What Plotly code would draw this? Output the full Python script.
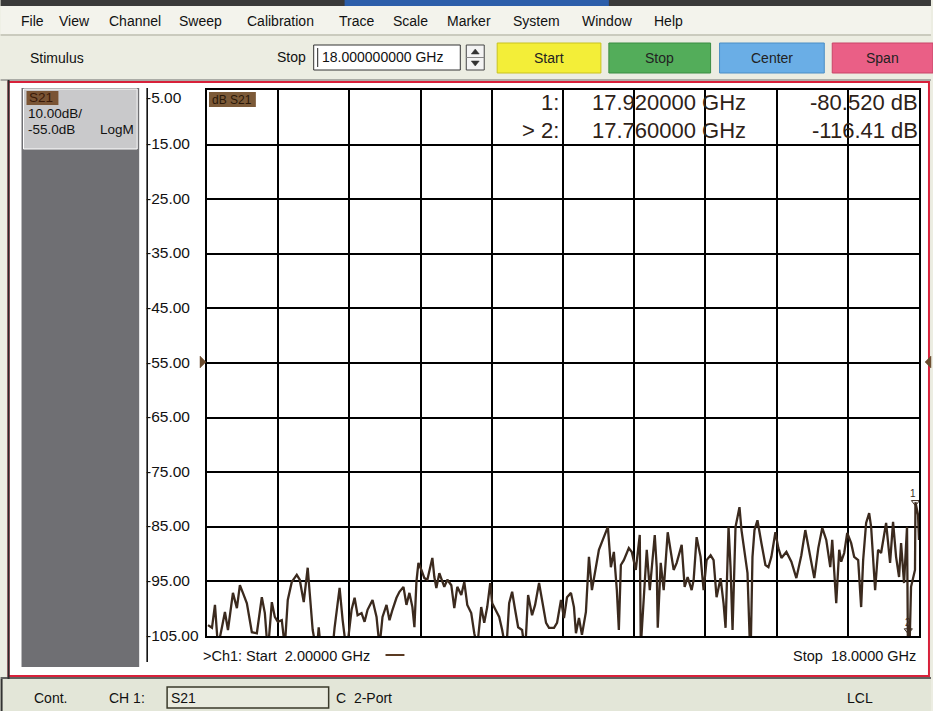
import plotly.graph_objects as go

# ---------------- data ----------------
freq_ghz = [
    2.022, 2.112, 2.179, 2.246, 2.336, 2.403, 2.471, 2.560, 2.583, 2.672, 2.739, 2.807, 2.896,
    3.008, 3.120, 3.232, 3.300, 3.367, 3.457, 3.524, 3.591, 3.681, 3.748, 3.815, 3.905,
    4.017, 4.084, 4.174, 4.241, 4.263, 4.308, 4.375, 4.465, 4.510, 4.577, 4.801, 4.868, 4.980,
    5.048, 5.137, 5.249, 5.317, 5.384, 5.473, 5.541, 5.608, 5.720, 5.810, 5.877, 5.944,
    6.034, 6.101, 6.168, 6.258, 6.325, 6.415, 6.482, 6.549, 6.616, 6.661, 6.706, 6.751, 6.818, 6.885, 6.952,
    7.064, 7.109, 7.154, 7.221, 7.333, 7.401, 7.490, 7.557, 7.625, 7.714, 7.782, 7.849, 7.938,
    8.006, 8.073, 8.162, 8.230, 8.297, 8.364, 8.409, 8.499, 8.566, 8.633, 8.723, 8.790, 8.857, 8.924, 8.992,
    9.081, 9.148, 9.216, 9.305, 9.373, 9.462, 9.529, 9.619, 9.686, 9.798, 9.866, 9.955,
    10.022, 10.090, 10.179, 10.246, 10.291, 10.359, 10.426, 10.515, 10.583, 10.650, 10.739, 10.807, 10.874, 10.964,
    11.008, 11.076, 11.143, 11.210, 11.255, 11.300, 11.367, 11.479, 11.546, 11.636, 11.725, 11.748, 11.882, 11.950,
    12.062, 12.106, 12.129, 12.196, 12.263, 12.353, 12.420, 12.487, 12.555, 12.667, 12.734, 12.801, 12.891, 12.936,
    13.003, 13.092, 13.160, 13.227, 13.317, 13.384, 13.451, 13.541, 13.608, 13.653, 13.720, 13.765, 13.810, 13.877, 13.922, 13.966,
    14.011, 14.101, 14.146, 14.213, 14.258, 14.303, 14.370, 14.459, 14.549, 14.616, 14.683, 14.773, 14.840, 14.908,
    15.020, 15.132, 15.244, 15.356, 15.445, 15.557, 15.647, 15.737, 15.826, 15.916,
    16.006, 16.050, 16.118, 16.140, 16.207, 16.252, 16.319, 16.387, 16.476, 16.543, 16.633, 16.700, 16.745, 16.812, 16.880, 16.924,
    17.014, 17.081, 17.148, 17.216, 17.261, 17.350, 17.417, 17.485, 17.552, 17.597, 17.664, 17.731, 17.760, 17.821, 17.910, 17.920, 17.978,
    18.000,
]
s21_db = [
    -103.0, -103.5, -99.3, -107.0, -103.4, -100.6, -103.9, -98.8, -97.1, -99.9, -95.7, -97.1, -99.0,
    -104.3, -104.5, -97.9, -100.8, -108.0, -98.8, -101.5, -102.4, -102.1, -107.0, -98.4, -95.1,
    -93.8, -94.7, -98.8, -94.2, -92.5, -97.1, -103.9, -108.0, -103.4, -109.0, -109.0, -103.4, -96.2,
    -102.1, -108.0, -100.2, -98.0, -101.2, -100.8, -102.4, -100.2, -98.4, -101.5, -107.0, -101.5,
    -99.3, -102.1, -100.2, -98.0, -96.9, -96.0, -99.3, -97.1, -99.7, -103.4, -95.1, -91.6, -92.9, -94.4, -94.7,
    -90.7, -94.2, -96.2, -93.5, -96.0, -94.7, -95.7, -99.9, -96.0, -97.5, -95.1, -99.3, -100.8,
    -104.5, -107.0, -99.7, -102.6, -99.7, -95.3, -99.0, -100.6, -101.5, -103.9, -108.0, -99.0, -96.9, -100.2, -103.4,
    -103.9, -108.0, -97.5, -101.2, -99.3, -95.3, -98.4, -102.6, -103.5, -103.5, -102.6, -98.4,
    -101.7, -97.9, -97.1, -99.7, -104.5, -101.7, -104.8, -100.6, -90.5, -96.6, -92.4, -89.2, -87.8, -86.1,
    -85.0, -92.4, -89.6, -96.6, -103.9, -92.0, -91.1, -88.9, -89.6, -92.9, -86.5, -107.0, -89.2, -96.6,
    -86.5, -92.4, -103.5, -91.6, -96.6, -86.0, -89.2, -92.9, -91.6, -88.3, -96.0, -94.2, -96.6, -94.7,
    -86.9, -90.5, -96.6, -91.1, -90.2, -91.1, -97.9, -94.4, -99.0, -103.5, -85.0, -92.4, -103.9, -85.0, -83.2, -81.4,
    -85.6, -91.1, -93.5, -110.0, -90.5, -85.6, -83.8, -88.0, -92.0, -92.4, -90.5, -86.0, -88.9, -90.7,
    -89.6, -91.4, -94.4, -90.2, -85.6, -90.5, -94.4, -88.9, -85.2, -87.4,
    -92.4, -87.4, -95.1, -99.0, -89.2, -91.4, -89.8, -86.1, -88.0, -90.5, -91.1, -99.7, -91.1, -84.3, -82.5, -85.0,
    -96.6, -89.2, -89.8, -86.9, -84.3, -91.6, -84.1, -90.5, -94.2, -88.0, -95.3, -85.0, -116.41, -96.0, -92.9, -80.52, -82.8,
    -87.4,
]
y_ticks = [-5, -15, -25, -35, -45, -55, -65, -75, -85, -95, -105]
y_tick_labels = ["-5.00", "-15.00", "-25.00", "-35.00", "-45.00", "-55.00",
                 "-65.00", "-75.00", "-85.00", "-95.00", "-105.00"]
marker_ids = ["1:", "> 2:"]
marker_freqs = ["17.920000 GHz", "17.760000 GHz"]
marker_vals = ["-80.520 dB", "-116.41 dB"]
menu_items = ["File", "View", "Channel", "Sweep", "Calibration", "Trace", "Scale",
              "Marker", "System", "Window", "Help"]
buttons = ["Start", "Stop", "Center", "Span"]

# ---------------- layout helpers (pixel -> paper) ----------------
W, H = 933, 711
L, R, T, B = 207, 12, 90, 75
PW, PH = W - L - R, H - T - B


def X(px):
    return (px - L) / PW


def Y(py):
    return (H - B - py) / PH


shapes = []
annotations = []
FONT = "Liberation Sans, Arial, sans-serif"


def rect(x0, y0, x1, y1, fill, line=None, lw=0, layer="below"):
    shapes.append(dict(type="rect", xref="paper", yref="paper",
                       x0=X(x0), x1=X(x1), y0=Y(y1), y1=Y(y0),
                       fillcolor=fill, layer=layer,
                       line=dict(color=line or fill, width=lw)))


def hline(x0, x1, y, color, lw=1, layer="below"):
    shapes.append(dict(type="line", xref="paper", yref="paper",
                       x0=X(x0), x1=X(x1), y0=Y(y), y1=Y(y), layer=layer,
                       line=dict(color=color, width=lw)))


def vline(x, y0, y1, color, lw=1, layer="below"):
    shapes.append(dict(type="line", xref="paper", yref="paper",
                       x0=X(x), x1=X(x), y0=Y(y0), y1=Y(y1), layer=layer,
                       line=dict(color=color, width=lw)))


def tri(points, fill):
    path = "M " + " L ".join(f"{X(px)},{Y(py)}" for px, py in points) + " Z"
    shapes.append(dict(type="path", xref="paper", yref="paper", path=path,
                       fillcolor=fill, line=dict(color=fill, width=0.5), layer="above"))


def txt(x, y, s, size=14, anchor="left", color="#111111", family=FONT, bg=None):
    annotations.append(dict(xref="paper", yref="paper", x=X(x), y=Y(y), text=s,
                            showarrow=False, xanchor=anchor, yanchor="middle",
                            font=dict(size=size, color=color, family=family),
                            bgcolor=bg, borderpad=0))


# ---------------- window chrome ----------------
rect(0, 0, 933, 6, "#3a3a3a")
rect(345, 0, 610, 8, "#2c5eaa")
rect(0, 6, 933, 34, "#f3f3ec")
hline(0, 933, 35, "#a8a89a", 1)
rect(0, 36, 933, 79, "#ecede2")
menu_x = [19, 58, 108, 178, 246, 338, 393, 447, 513, 582, 654]
for mx, m in zip(menu_x, menu_items):
    txt(mx, 21, m, 14)

txt(28, 58, "Stimulus", 14)
txt(307, 57, "Stop", 14, anchor="right")
rect(314, 45, 461, 70, "#ffffff", "#333333", 1)
vline(318, 48, 67, "#222222", 1)
txt(321, 57, "18.000000000 GHz", 14)
rect(467, 45, 485, 70, "#f4f4f4", "#444444", 1)
hline(467, 485, 57.5, "#888888", 1)
tri([(472, 54), (480, 54), (476, 49)], "#333333")
tri([(472, 61), (480, 61), (476, 66)], "#333333")

btn_x = [(498, 602), (610, 712), (721, 826), (834, 935)]
btn_fill = ["#f3ee38", "#53ad5a", "#6aaee6", "#ea5f86"]
btn_edge = ["#c9c220", "#3b8d43", "#4a8ec6", "#c94468"]
for (bx0, bx1), fill, edge, label in zip(btn_x, btn_fill, btn_edge, buttons):
    rect(bx0, 43, bx1, 73, fill, edge, 1)
    txt((bx0 + bx1) / 2, 58, label, 14, anchor="center", color="#222222")

# red channel-window frame
hline(0, 933, 80, "#6b6b6b", 1)
rect(6, 81, 933, 678, "#e9eadf")
rect(8, 82, 931, 676, "#ffffff", "#d8203a", 2)
vline(8, 80, 711, "#2a2a2a", 2)
# left gray panel
rect(21, 88, 139, 667, "#6f6f73")
rect(23, 89, 137, 149, "#c9c9cb", "#ffffff", 1)
rect(26, 91, 58, 105, "#7a5434")
txt(27, 98, "S21", 13.5, color="#3a1a08")
txt(26, 114, "10.00dB/", 13.5)
txt(26, 130, "-55.0dB", 13.5)
txt(135, 130, "LogM", 13.5, anchor="right")

# y axis line and tick labels
vline(147, 88, 662, "#000000", 1.5)
for v, lab in zip(y_ticks, y_tick_labels):
    yy = 636 - (v - (-105)) / 100 * 546
    if v == -5:
        yy = 98
    else:
        yy = yy - 1
    txt(145, yy, lab, 15.5, color="#111111")

# reference level triangles at -55 dB
tri([(200, 356), (200, 368), (206, 362)], "#6a4a2c")
tri([(933, 356), (933, 368), (927, 362)], "#6a4a2c")

# trace title tag
rect(209, 92, 256, 107, "#7c5a38")
txt(211, 99.5, "dB S21", 12, color="#2a1808")

# marker readout
for i in range(2):
    yy = 102 + i * 29
    txt(561, yy, marker_ids[i], 22, anchor="right", color="#2e2218")
    txt(592, yy, marker_freqs[i], 22, color="#2e2218")
    txt(921, yy, marker_vals[i], 22, anchor="right", color="#2e2218")

# bottom labels
txt(202, 656, ">Ch1: Start  2.00000 GHz", 14.5)
hline(386, 405, 655, "#5a3a22", 2)
txt(919, 656, "Stop  18.0000 GHz", 14.5, anchor="right")

# status bar
hline(0, 933, 678, "#333333", 1.5)
rect(0, 679, 933, 711, "#e3e6d8")
vline(1, 679, 711, "#333333", 2)
txt(33, 698, "Cont.", 14)
txt(108, 698, "CH 1:", 14)
rect(167, 687, 329, 708, "#e9ebdf", "#3a3a2a", 1.5)
txt(170, 698, "S21", 14)
txt(335, 698, "C  2-Port", 14)
txt(848, 698, "LCL", 14)

# marker glyphs on the trace
annotations.append(dict(x=17.92, y=-80.52, xref="x", yref="y", text="1", showarrow=False,
                        yshift=9, xshift=-2, font=dict(size=10, color="#3b2a1e", family=FONT)))
annotations.append(dict(x=17.76, y=-105, xref="x", yref="y", text="2", showarrow=False,
                        yshift=14, xshift=0, font=dict(size=10, color="#3b2a1e", family=FONT)))

fig = go.Figure()
fig.add_trace(go.Scatter(x=freq_ghz, y=s21_db, mode="lines",
                         line=dict(color="#3b2a1e", width=2.3), hoverinfo="x+y",
                         showlegend=False))
fig.add_trace(go.Scatter(x=[17.92], y=[-80.52], mode="markers",
                         marker=dict(symbol="triangle-down-open", size=7, color="#3b2a1e"),
                         showlegend=False, cliponaxis=False))
fig.add_trace(go.Scatter(x=[17.76], y=[-104], mode="markers",
                         marker=dict(symbol="triangle-down-open", size=7, color="#3b2a1e"),
                         showlegend=False, cliponaxis=False))

fig.update_layout(
    width=W, height=H, margin=dict(l=L, r=R, t=T, b=B, pad=0),
    paper_bgcolor="#ecede2", plot_bgcolor="#ffffff",
    shapes=shapes, annotations=annotations, showlegend=False,
    font=dict(family=FONT),
    xaxis=dict(range=[2, 18], dtick=1.6, tick0=2, showgrid=True, gridcolor="#000000",
               gridwidth=1.5, showticklabels=False, ticks="", zeroline=False,
               showline=True, linecolor="#000000", linewidth=1.5, mirror=True,
               fixedrange=True),
    yaxis=dict(range=[-105, -5], dtick=10, tick0=-5, showgrid=True, gridcolor="#000000",
               gridwidth=1.5, showticklabels=False, ticks="", zeroline=False,
               showline=True, linecolor="#000000", linewidth=1.5, mirror=True,
               fixedrange=True),
)

fig.write_html("out.html", config={"displayModeBar": False},
               post_script="document.body.style.margin='0';document.body.style.overflow='hidden';")
